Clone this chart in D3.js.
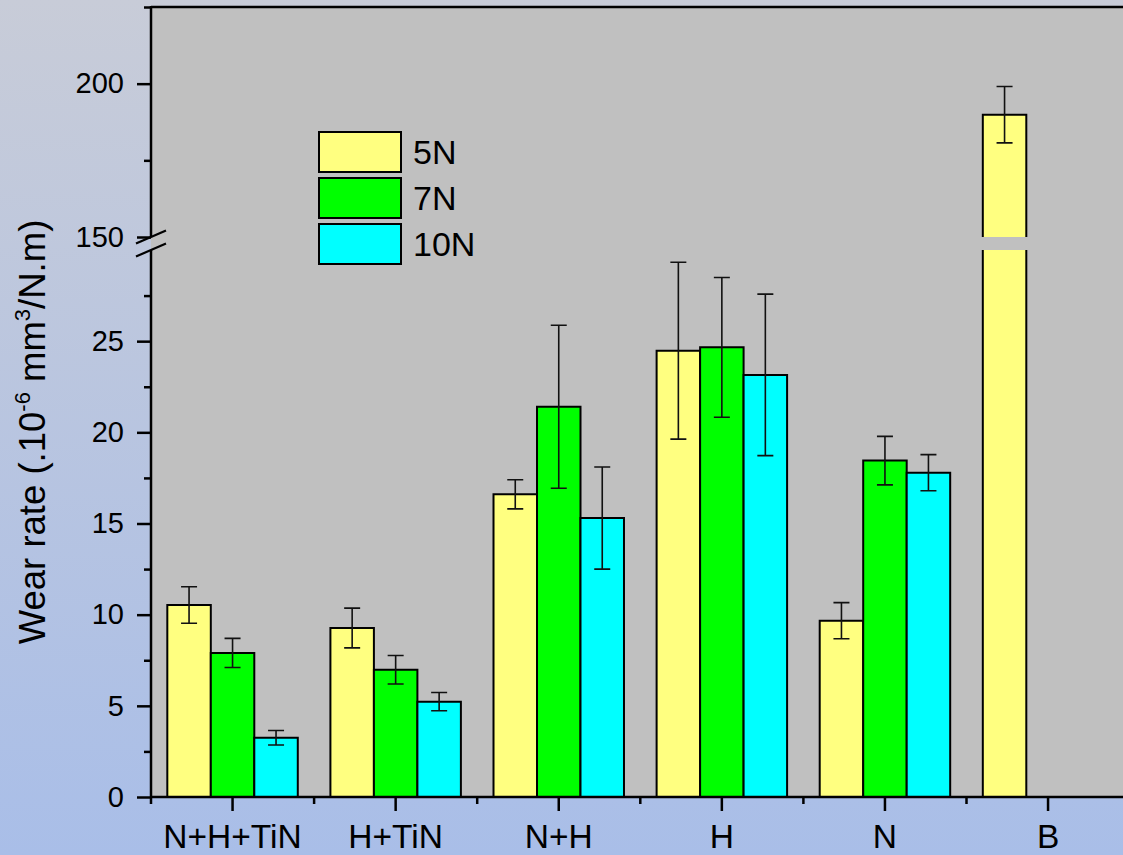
<!DOCTYPE html>
<html><head><meta charset="utf-8">
<script src="https://cdn.jsdelivr.net/npm/d3@7"></script>
<style>html,body{margin:0;padding:0;overflow:hidden;background:#fff;} svg{display:block;}</style>
</head><body>
<svg id="c" width="1123" height="855"></svg>
<script>
// ---- data ----
const categories = ["N+H+TiN", "H+TiN", "N+H", "H", "N", "B"];
const seriesNames = ["5N", "7N", "10N"];
const values5N = [10.53, 9.27, 16.6, 24.48, 9.67, 189.9];
const values7N = [7.9, 6.98, 21.4, 24.66, 18.45, null];
const values10N = [3.25, 5.23, 15.3, 23.15, 17.79, null];
const errors5N = [1.0, 1.09, 0.8, 4.85, 0.99, 9.2];
const errors7N = [0.8, 0.78, 4.47, 3.83, 1.33, null];
const errors10N = [0.4, 0.5, 2.8, 4.43, 0.99, null];
const lowTicks = [0, 5, 10, 15, 20, 25];
const lowMinor = [2.5, 7.5, 12.5, 17.5, 22.5, 27.5];
const highTicks = [150, 200];
const highMinor = [175, 225];
const colors = ["#ffff80", "#00ff00", "#00ffff"];

const seriesValues = [values5N, values7N, values10N];
const seriesErrors = [errors5N, errors7N, errors10N];

const svg = d3.select("#c");
const FONT = "'Liberation Sans', Arial, sans-serif";

// background gradient
const defs = svg.append("defs");
const grad = defs.append("linearGradient").attr("id", "bg").attr("x1", 0).attr("y1", 0).attr("x2", 0).attr("y2", 1);
grad.append("stop").attr("offset", "0%").attr("stop-color", "#c8ccd8");
grad.append("stop").attr("offset", "100%").attr("stop-color", "#a9bee8");
svg.append("rect").attr("width", 1123).attr("height", 855).attr("fill", "url(#bg)");

// scales
const xLeft = 151, step = 163.1;
const x = d3.scaleBand().domain(categories).range([xLeft, xLeft + step * categories.length]).paddingInner(0).paddingOuter(0);
const yLow = d3.scaleLinear().domain([0, 30]).range([797, 250]);
const yHigh = d3.scaleLinear().domain([150, 225]).range([237, 7]);
const BREAK_LOW = 30, BREAK_HIGH = 150;

// plot background
svg.append("rect").attr("x", xLeft).attr("y", yHigh(225)).attr("width", 1123 - xLeft + 10).attr("height", yLow(0) - yHigh(225)).attr("fill", "#c0c0c0");

// bars
const groupWidth = step * 0.8;
const sub = d3.scaleBand().domain(seriesNames).range([-groupWidth / 2, groupWidth / 2]);
const barsG = svg.append("g");
const errG = svg.append("g");

function yOf(v) { return v <= BREAK_LOW ? yLow(v) : yHigh(v); }

seriesNames.forEach((s, si) => {
  categories.forEach((c, ci) => {
    const v = seriesValues[si][ci];
    if (v == null) return;
    const cx = x(c) + x.bandwidth() / 2;
    const x0 = cx + sub(s), x1 = x0 + sub.bandwidth();
    if (v <= BREAK_LOW) {
      barsG.append("rect").attr("x", x0).attr("y", yLow(v)).attr("width", x1 - x0).attr("height", yLow(0) - yLow(v)).attr("fill", colors[si]);
      barsG.append("path").attr("d", `M${x0},${yLow(0)}V${yLow(v)}H${x1}V${yLow(0)}`).attr("fill", "none").attr("stroke", "#000").attr("stroke-width", 2);
    } else {
      barsG.append("rect").attr("x", x0).attr("y", yLow(BREAK_LOW)).attr("width", x1 - x0).attr("height", yLow(0) - yLow(BREAK_LOW)).attr("fill", colors[si]);
      barsG.append("path").attr("d", `M${x0},${yLow(0)}V${yLow(BREAK_LOW)}M${x1},${yLow(BREAK_LOW)}V${yLow(0)}`).attr("fill", "none").attr("stroke", "#000").attr("stroke-width", 2);
      barsG.append("rect").attr("x", x0).attr("y", yHigh(v)).attr("width", x1 - x0).attr("height", yHigh(BREAK_HIGH) - yHigh(v)).attr("fill", colors[si]);
      barsG.append("path").attr("d", `M${x0},${yHigh(BREAK_HIGH)}V${yHigh(v)}H${x1}V${yHigh(BREAK_HIGH)}`).attr("fill", "none").attr("stroke", "#000").attr("stroke-width", 2);
    }
    const e = seriesErrors[si][ci];
    const ex = (x0 + x1) / 2, cap = 8;
    const yt = yOf(v + e), yb = yOf(v - e);
    errG.append("path").attr("d", `M${ex},${yt}V${yb}M${ex - cap},${yt}H${ex + cap}M${ex - cap},${yb}H${ex + cap}`)
      .attr("fill", "none").attr("stroke", "#111").attr("stroke-width", 1.6);
  });
});

// axes
const axisW = 2.5;
function styleAxis(g) {
  g.select(".domain").remove();
  g.selectAll(".tick line").attr("stroke", "#000").attr("stroke-width", axisW);
  g.selectAll(".tick text").attr("fill", "#000").style("font-family", FONT);
}
const gLow = svg.append("g").attr("transform", `translate(${xLeft},0)`)
  .call(d3.axisLeft(yLow).tickValues(lowTicks).tickSize(14).tickPadding(13).tickFormat(d3.format("d")));
styleAxis(gLow); gLow.selectAll(".tick text").style("font-size", "29px");
const gLowMinor = svg.append("g").attr("transform", `translate(${xLeft},0)`)
  .call(d3.axisLeft(yLow).tickValues(lowMinor).tickSize(7).tickFormat(""));
styleAxis(gLowMinor);
const gHigh = svg.append("g").attr("transform", `translate(${xLeft},0)`)
  .call(d3.axisLeft(yHigh).tickValues(highTicks).tickSize(14).tickPadding(13).tickFormat(d3.format("d")));
styleAxis(gHigh); gHigh.selectAll(".tick text").style("font-size", "29px");
const gHighMinor = svg.append("g").attr("transform", `translate(${xLeft},0)`)
  .call(d3.axisLeft(yHigh).tickValues(highMinor).tickSize(7).tickFormat(""));
styleAxis(gHighMinor);

// axis lines
svg.append("line").attr("x1", xLeft).attr("x2", xLeft).attr("y1", yLow(0) + 1).attr("y2", yLow(BREAK_LOW)).attr("stroke", "#000").attr("stroke-width", axisW);
svg.append("line").attr("x1", xLeft).attr("x2", xLeft).attr("y1", yHigh(BREAK_HIGH)).attr("y2", yHigh(225) - 1).attr("stroke", "#000").attr("stroke-width", axisW);
svg.append("line").attr("x1", xLeft).attr("x2", 1130).attr("y1", yHigh(225)).attr("y2", yHigh(225)).attr("stroke", "#000").attr("stroke-width", axisW);
svg.append("line").attr("x1", xLeft - 1).attr("x2", 1130).attr("y1", yLow(0)).attr("y2", yLow(0)).attr("stroke", "#000").attr("stroke-width", axisW);

// break marks
[yHigh(BREAK_HIGH), yLow(BREAK_LOW)].forEach(yy => {
  svg.append("line").attr("x1", xLeft - 15).attr("y1", yy + 6.5).attr("x2", xLeft + 15).attr("y2", yy - 6.5)
    .attr("stroke", "#000").attr("stroke-width", 2.2);
});

// bottom axis
const gX = svg.append("g").attr("transform", `translate(0,${yLow(0)})`)
  .call(d3.axisBottom(x).tickSize(14).tickPadding(13));
styleAxis(gX); gX.selectAll(".tick text").style("font-size", "33.5px");
const edges = categories.map(c => x(c)).concat([x(categories[categories.length - 1]) + x.bandwidth()]);
svg.append("g").selectAll("line").data(edges).join("line")
  .attr("x1", d => d).attr("x2", d => d).attr("y1", yLow(0)).attr("y2", yLow(0) + 7)
  .attr("stroke", "#000").attr("stroke-width", axisW);

// y axis title
const title = svg.append("text").attr("transform", "translate(45,432) rotate(-90)")
  .attr("text-anchor", "middle").style("font-family", FONT).style("font-size", "36.5px").attr("fill", "#000");
title.append("tspan").text("Wear rate (.10");
title.append("tspan").attr("dy", -15).style("font-size", "22px").text("-6");
title.append("tspan").attr("dy", 15).text(" mm");
title.append("tspan").attr("dy", -15).style("font-size", "22px").text("3");
title.append("tspan").attr("dy", 15).text("/N.m)");

// legend
const legend = svg.append("g");
seriesNames.forEach((s, i) => {
  const y0 = 132 + i * 46;
  legend.append("rect").attr("x", 319).attr("y", y0).attr("width", 82).attr("height", 40)
    .attr("fill", colors[i]).attr("stroke", "#000").attr("stroke-width", 2);
  legend.append("text").attr("x", 413).attr("y", y0 + 32).style("font-family", FONT).style("font-size", "34px").attr("fill", "#000").text(s);
});
</script>
</body></html>
